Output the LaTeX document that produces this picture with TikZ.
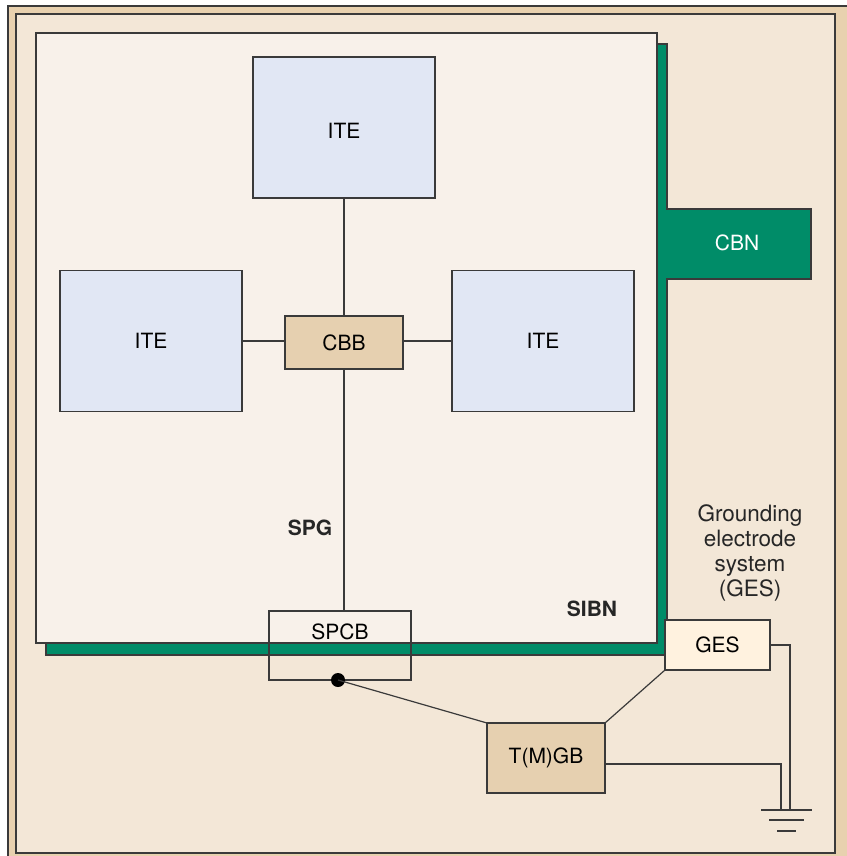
\documentclass[tikz,border=0pt]{standalone}
\usepackage{fontspec}
\setsansfont{TeX Gyre Heros}
\usetikzlibrary{positioning,calc}
\definecolor{frameColor}{HTML}{E8D1AF}
\definecolor{roomColor}{HTML}{F3E7D7}
\definecolor{sibnColor}{HTML}{F8F1EA}
\definecolor{iteColor}{HTML}{E1E7F4}
\definecolor{barColor}{HTML}{E6D0B0}
\definecolor{gesColor}{HTML}{FFF2DF}
\definecolor{cbnColor}{HTML}{008C68}
\definecolor{lineColor}{HTML}{3A3A3A}
\tikzset{
	box/.style={draw=lineColor, line width=1.2pt, outer sep=0, inner sep=0,
		font=\sffamily\fontsize{21}{25}\selectfont},
	ite/.style={box, fill=iteColor, minimum width=182pt, minimum height=141pt},
	bar/.style={box, fill=barColor, minimum width=118pt},
	wire/.style={draw=lineColor, line width=1.2pt},
	tag/.style={font=\sffamily\bfseries\fontsize{21}{25}\selectfont, text=black!85}
}

\begin{document}
\begin{tikzpicture}[x=1pt, y=-1pt]
				\useasboundingbox (0,0) rectangle (846,856);
				% room frame
				\draw[lineColor, line width=1.5pt, fill=frameColor] (8,6) rectangle (860,870);
				\draw[lineColor, line width=1.5pt, fill=roomColor] (16,14) rectangle (835,853);
				% common bonding network
				\draw[lineColor, line width=1.5pt, fill=cbnColor] (46,44) -- (667,44) -- (667,209) -- (811,209)
					-- (811,279) -- (667,279) -- (667,655) -- (46,655) -- cycle;
				\draw[lineColor, line width=1.5pt, fill=sibnColor] (36,33) rectangle (657,643);
				\node[font=\sffamily\fontsize{21}{25}\selectfont, text=white] (cbn) at (737,243) {CBN};
				
				\node[ite, label={[box, draw=none, yshift=-3.5pt]center:ITE}] (ite1) at (344,127.5) {};
				\node[ite] (ite2) at (151,341) {ITE};
				\node[ite] (ite3) at (543,341) {ITE};
				\node[bar, minimum height=53pt] (cbb) at (344,342.5) {CBB};
				\node[box, minimum width=142pt, minimum height=69pt,
					label={[box, draw=none, anchor=north, yshift=-13pt]north:SPCB}] (spcb) at (340,645.5) {};
				\node[bar, minimum height=70pt] (tmgb) at (546,758) {T(M)GB};
				\node[box, fill=gesColor, minimum width=105pt, minimum height=50pt] (ges) at (717.5,645) {GES};
				
				\node[tag] (spg) at (310,528) {SPG};
				\node[tag] (sibn) at (592,609) {SIBN};
				\node[font=\sffamily\fontsize{22.5}{25}\selectfont, text=black!85, align=center] (gestxt) at (750,553)
					{Grounding\\electrode\\system\\(GES)};
				
				\path[wire] (ite1.south) -- (cbb.north);
				\path[wire] (ite2.east) -- (ite2.east -| cbb.west);
				\path[wire] (ite3.west) -- (ite3.west -| cbb.east);
				\path[wire] (cbb.south) -- (cbb.south |- spcb.north);
				\fill[black] (338,680) coordinate (dot) circle (7pt);
				\path[wire] (dot) -- (tmgb.north west);
				\path[wire] (ges.south west) -- (tmgb.north east);
				
				% ground
				\coordinate (gnd) at (786,810);
				\path[wire] (ges.east) -- (790,645) -- (790,810);
				\path[wire] (605,764) -- (781,764) -- (781,810);
				\draw[lineColor, line width=1.5pt] ($(gnd)+(-25,0)$) -- ($(gnd)+(26,0)$);
				\draw[lineColor, line width=1.5pt] ($(gnd)+(-17,10)$) -- ($(gnd)+(18,10)$);
				\draw[lineColor, line width=1.5pt] ($(gnd)+(-9,21)$) -- ($(gnd)+(10,21)$);
			\end{tikzpicture}
\end{document}
